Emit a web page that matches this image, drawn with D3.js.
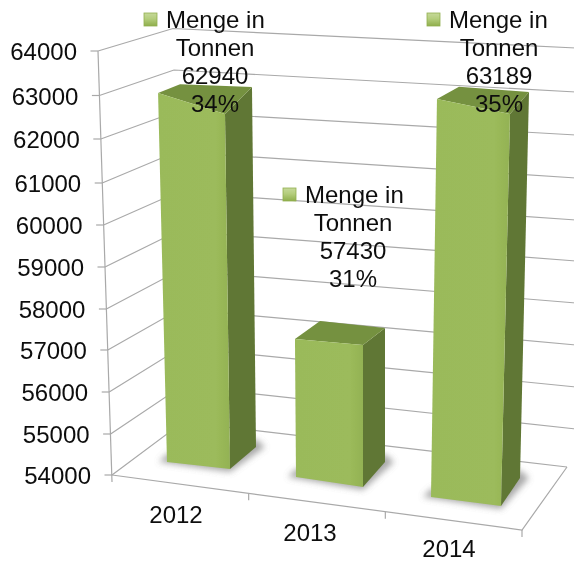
<!DOCTYPE html>
<html><head><meta charset="utf-8">
<script src="https://cdn.jsdelivr.net/npm/d3@7"></script>
<style>html,body{margin:0;padding:0;background:#fff;overflow:hidden}svg{display:block}text{font-family:"Liberation Sans",Arial,sans-serif;fill:#0f0f0f}</style>
</head><body><div id="c"></div>
<script>
// ---- data ----
const categories = ["2012","2013","2014"];
const values = [62940,57430,63189];
const shares = ["34%","31%","35%"];
const seriesName = ["Menge in","Tonnen"];
const valueTicks = [54000,55000,56000,57000,58000,59000,60000,61000,62000,63000,64000];

// ---- layout: hand-fitted perspective of the reference ----
const W=574,H=562;
const frontY=[475,434,392,350,309,267,225,183,139,95.5,51];
const backLeftY=[422,386,347.5,309,270.5,231,192.5,152,112,70,28.5];
const backRightY=[468,429,387,345,303,261,220,178,135,92,48];
const sFrontY=d3.scaleLinear().domain(valueTicks).range(frontY);
const sFrontX=d3.scaleLinear().domain([54000,64000]).range([112,98]);
const sBackY=d3.scaleLinear().domain(valueTicks).range(backLeftY);
const sBackX=d3.scaleLinear().domain([54000,64000]).range([183,173]);
const sRightY=d3.scaleLinear().domain(valueTicks).range(backRightY);
const sRise=d3.scaleLinear().domain([54000,64000]).range([0,1]);
const floorFrontRight=[522,530], floorBackRight=[567,467];
const sFloorX=d3.scaleLinear().domain([0,3]).range([112,522]);
const sFloorY=d3.scaleLinear().domain([0,3]).range([475,530]);
// bar corners: [front-left, front-right, back-right, back-left]
const barBase={"2012":[[167,462],[230,469],[256,447],[193,440]],
               "2013":[[296,477],[363,487],[385,462],[318,452]],
               "2014":[[431,497],[501,506],[520,478],[450,469]]};
const barRef ={"2012":[[157,49.2],[224.4,72],[251.5,44.3],[178.5,42]],
               "2013":[[293,75],[363,73],[385,71],[324,70]],
               "2014":[[437.5,64],[510.8,79.5],[529.8,58],[459.8,53]]};
const labelPos={"2012":{key:144,text:166,mid:215,base:28},
                "2013":{key:283,text:305,mid:353,base:203},
                "2014":{key:427,text:449,mid:499,base:28}};
const catLabelPos={"2012":[176,523],"2013":[310,541],"2014":[449,556.5]};
const lh=28, fs=24;

const svg=d3.select("#c").append("svg").attr("width",W).attr("height",H);
const defs=svg.append("defs");
defs.append("filter").attr("id","soft").attr("x","-5%").attr("y","-5%").attr("width","110%").attr("height","110%")
  .append("feGaussianBlur").attr("stdDeviation",0.45);
defs.append("filter").attr("id","shadow").attr("x","-30%").attr("y","-30%").attr("width","160%").attr("height","160%")
  .append("feGaussianBlur").attr("stdDeviation",3);
const kg=defs.append("linearGradient").attr("id","keyGrad").attr("x1",0).attr("y1",0).attr("x2",0).attr("y2",1);
kg.append("stop").attr("offset","0%").attr("stop-color","#c6d99a");
kg.append("stop").attr("offset","45%").attr("stop-color","#b4cd7c");
kg.append("stop").attr("offset","100%").attr("stop-color","#8fae4c");
const fg=defs.append("linearGradient").attr("id","frontGrad");
fg.append("stop").attr("offset","0%").attr("stop-color","#9aba5a");
fg.append("stop").attr("offset","80%").attr("stop-color","#9cbb5b");
fg.append("stop").attr("offset","100%").attr("stop-color","#93b253");

const root=svg.append("g").attr("filter","url(#soft)");
const poly=pts=>pts.map(p=>p.join(",")).join(" ");
const gridColor="#a9a9a9";

// walls: gridlines
const grid=root.append("g").attr("fill","none").attr("stroke",gridColor).attr("stroke-width",1.2);
grid.selectAll("polyline").data(valueTicks).join("polyline")
  .attr("points",d=>poly([[sFrontX(d),sFrontY(d)],[sBackX(d),sBackY(d)],
     d===54000?floorBackRight:[W+2,sRightY(d)]]));
// floor and axes
grid.append("polyline").attr("points",poly([[sFrontX(54000),sFrontY(54000)],floorFrontRight,floorBackRight]));
grid.append("line").attr("x1",sFrontX(54000)).attr("y1",482).attr("x2",sFrontX(64000)).attr("y2",sFrontY(64000));
grid.selectAll("line.yt").data(valueTicks).join("line").attr("class","yt")
  .attr("x1",d=>sFrontX(d)-7.5).attr("x2",d=>sFrontX(d)).attr("y1",d=>sFrontY(d)).attr("y2",d=>sFrontY(d));
grid.selectAll("line.xt").data(d3.range(1,4)).join("line").attr("class","xt")
  .attr("x1",sFloorX).attr("x2",sFloorX).attr("y1",sFloorY).attr("y2",d=>sFloorY(d)+7);

// value axis labels
root.selectAll("text.yl").data(valueTicks).join("text").attr("class","yl")
  .attr("x",d=>sFrontX(d)-21).attr("y",d=>sFrontY(d)+9).attr("text-anchor","end")
  .attr("font-size",fs).text(d=>d);
// category labels
root.selectAll("text.xl").data(categories).join("text").attr("class","xl")
  .attr("x",d=>catLabelPos[d][0]).attr("y",d=>catLabelPos[d][1]).attr("text-anchor","middle")
  .attr("font-size",fs).text(d=>d);

// bars
const bars=categories.map((c,i)=>{
  const t=sRise(values[i]);
  const top=barBase[c].map((b,k)=>[b[0]+(barRef[c][k][0]-b[0])*t,b[1]+(barRef[c][k][1]-b[1])*t]);
  return {c,base:barBase[c],top};
});
root.selectAll("polygon.shadow").data(bars).join("polygon").attr("class","shadow")
  .attr("points",d=>poly([[d.base[0][0]-8,d.base[0][1]],[d.base[1][0],d.base[1][1]+3],[d.base[2][0]+9,d.base[2][1]],[d.base[2][0],d.base[2][1]-8],[d.base[0][0],d.base[0][1]-8]]))
  .attr("fill","#8d8d8d").attr("opacity",0.75).attr("filter","url(#shadow)");
const bg=root.selectAll("g.bar").data(bars).join("g").attr("class","bar");
bg.append("polygon").attr("fill","#607734")
  .attr("points",d=>poly([d.top[1],d.top[2],d.base[2],d.base[1]]));
bg.append("polygon").attr("fill","#75913f")
  .attr("points",d=>poly([d.top[0],d.top[1],d.top[2],d.top[3]]));
bg.append("polygon").attr("fill","url(#frontGrad)")
  .attr("points",d=>poly([d.top[0],d.top[1],d.base[1],d.base[0]]));

// data labels
const lab=root.selectAll("g.lab").data(categories).join("g").attr("class","lab");
lab.append("rect").attr("x",d=>labelPos[d].key).attr("y",d=>labelPos[d].base-15)
  .attr("width",13).attr("height",13).attr("fill","url(#keyGrad)").attr("stroke","#92b04f").attr("stroke-width",0.8);
lab.append("text").attr("x",d=>labelPos[d].text).attr("y",d=>labelPos[d].base).attr("font-size",fs).text(seriesName[0]);
lab.append("text").attr("x",d=>labelPos[d].mid).attr("y",d=>labelPos[d].base+lh).attr("font-size",fs).attr("text-anchor","middle").text(seriesName[1]);
lab.append("text").attr("x",d=>labelPos[d].mid).attr("y",d=>labelPos[d].base+2*lh).attr("font-size",fs).attr("text-anchor","middle").text((d,i)=>values[i]);
lab.append("text").attr("x",d=>labelPos[d].mid).attr("y",d=>labelPos[d].base+3*lh).attr("font-size",fs).attr("text-anchor","middle").text((d,i)=>shares[i]);
</script></body></html>
